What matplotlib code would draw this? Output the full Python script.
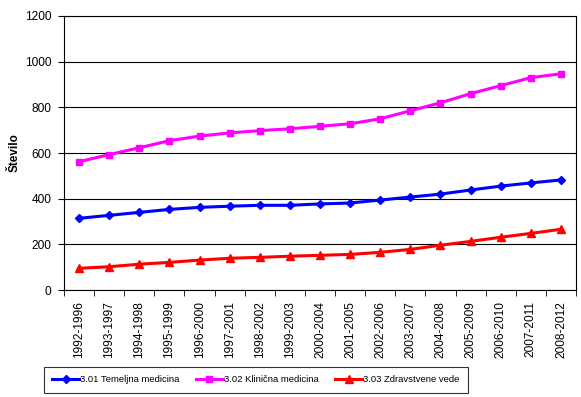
import matplotlib.pyplot as plt
import numpy as np

plt.rcParams['font.family'] = ['Liberation Sans', 'DejaVu Sans']

periods = ["1992-1996", "1993-1997", "1994-1998", "1995-1999", "1996-2000", "1997-2001",
           "1998-2002", "1999-2003", "2000-2004", "2001-2005", "2002-2006", "2003-2007",
           "2004-2008", "2005-2009", "2006-2010", "2007-2011", "2008-2012"]
temeljna = [314, 327, 340, 353, 362, 367, 371, 371, 377, 381, 394, 407, 420, 438, 455, 469, 482]
klinicna = [562, 593, 623, 654, 674, 688, 698, 706, 717, 728, 750, 785, 820, 860, 895, 930, 947]
zdravstvene = [95, 102, 113, 121, 131, 139, 143, 148, 152, 156, 165, 178, 196, 213, 231, 248, 266]

fig = plt.figure(figsize=(5.81, 3.97), dpi=100)
ax = fig.add_axes([0.1102, 0.2695, 0.8812, 0.6902])

x = np.arange(len(periods))
ax.plot(x, temeljna, color='#0000FF', lw=2.2, marker='D', ms=4, label='3.01 Temeljna medicina')
ax.plot(x, klinicna, color='#FF00FF', lw=2.2, marker='s', ms=5, label='3.02 Klinična medicina')
ax.plot(x, zdravstvene, color='#FF0000', lw=2.2, marker='^', ms=5.5, label='3.03 Zdravstvene vede')

ax.set_xlim(-0.5, len(periods) - 0.5)
ax.set_ylim(0, 1200)
ax.set_yticks(range(0, 1201, 200))
ax.yaxis.grid(True, color='black', lw=0.8)
ax.set_axisbelow(True)

ax.set_xticks(x)
ax.set_xticklabels(periods, rotation=90, fontsize=8.6)
ax.set_xticks(np.arange(-0.5, len(periods), 1), minor=True)
ax.tick_params(axis='x', which='major', length=0, pad=8)
ax.tick_params(axis='x', which='minor', length=4, direction='out', color='black')
ax.tick_params(axis='y', labelsize=8.6, length=4, direction='out', pad=5)

for s in ax.spines.values():
    s.set_color('black')
    s.set_linewidth(0.8)

ax.set_ylabel('Število', fontsize=8.5, fontweight='bold')
ax.yaxis.set_label_coords(-0.084, 0.5)

leg = fig.legend(loc='lower left', bbox_to_anchor=(0.0757, 0.011), ncol=3, fontsize=6.8,
                 frameon=True, fancybox=False, edgecolor='black', handlelength=2.8,
                 columnspacing=1.8, borderpad=0.9, handletextpad=0.1, borderaxespad=0)
leg.get_frame().set_linewidth(0.8)

fig.savefig('out.png', dpi=100)
